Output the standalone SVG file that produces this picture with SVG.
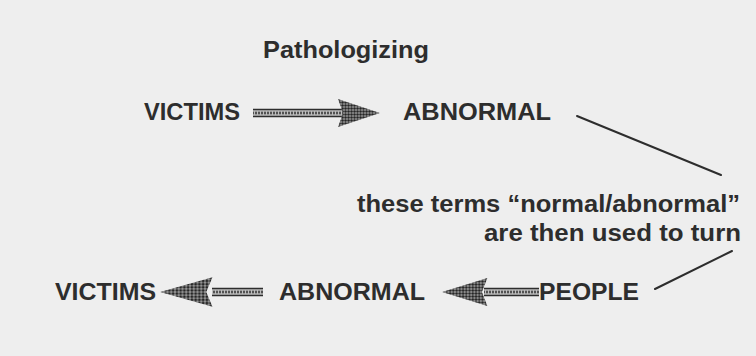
<svg xmlns="http://www.w3.org/2000/svg" xmlns:xlink="http://www.w3.org/1999/xlink" width="756" height="356" viewBox="0 0 756 356">
<style>
.t{font-family:"Liberation Sans",Arial,Helvetica,sans-serif;font-weight:bold;fill:#2d2d2d;font-size:23px}
.ln{stroke:#2d2d2d;stroke-width:2;fill:none;stroke-linecap:round}
.rail{stroke:#2d2d2d;stroke-width:1.6}
</style>
<defs>
<pattern id="stip" width="3" height="3" patternUnits="userSpaceOnUse">
<rect width="3" height="3" fill="#9c9c9c"/>
<circle cx="1.5" cy="1.5" r="1.25" fill="#262626"/>
</pattern>
<pattern id="dash" width="3" height="7" patternUnits="userSpaceOnUse" y="-3.5">
<rect width="3" height="7" fill="#bdbdbd"/>
<rect x="0" y="2.5" width="2" height="2" fill="#2d2d2d"/>
</pattern>
<path id="head" d="M0,0 L-42,-14 L-37,0 L-42,14 Z" fill="url(#stip)"/>
</defs>
<rect width="756" height="356" fill="#eeeeee"/>

<g id="label-pathologizing">
<text class="t" x="263" y="58" font-size="22" textLength="166" lengthAdjust="spacingAndGlyphs">Pathologizing</text>
</g>
<g id="node-victims-top">
<text class="t" x="144" y="120" textLength="96" lengthAdjust="spacingAndGlyphs">VICTIMS</text>
</g>
<g id="node-abnormal-top">
<text class="t" x="403" y="120" textLength="148" lengthAdjust="spacingAndGlyphs">ABNORMAL</text>
</g>
<g id="label-terms">
<text class="t" x="357" y="212" textLength="383" lengthAdjust="spacingAndGlyphs">these terms “normal/abnormal”</text>
<text class="t" x="484" y="241" textLength="257" lengthAdjust="spacingAndGlyphs">are then used to turn</text>
</g>
<g id="node-victims-bottom">
<text class="t" x="55" y="300" textLength="101" lengthAdjust="spacingAndGlyphs">VICTIMS</text>
</g>
<g id="node-abnormal-bottom">
<text class="t" x="279" y="300" textLength="146" lengthAdjust="spacingAndGlyphs">ABNORMAL</text>
</g>
<g id="node-people">
<text class="t" x="539" y="300" textLength="100" lengthAdjust="spacingAndGlyphs">PEOPLE</text>
</g>

<g id="connectors">
<!-- VICTIMS -> ABNORMAL (top) -->
<g transform="translate(0,113)">
<rect x="253" y="-3.5" width="90" height="7" fill="url(#dash)"/>
<line class="rail" x1="253" y1="-3.5" x2="343" y2="-3.5"/>
<line class="rail" x1="253" y1="3.5" x2="343" y2="3.5"/>
<use xlink:href="#head" transform="translate(380,0)"/>
</g>
<!-- ABNORMAL -> VICTIMS (bottom) -->
<g transform="translate(0,292)">
<rect x="212" y="-3.5" width="51" height="7" fill="url(#dash)"/>
<line class="rail" x1="212" y1="-3.5" x2="263" y2="-3.5"/>
<line class="rail" x1="212" y1="3.5" x2="263" y2="3.5"/>
<use xlink:href="#head" transform="translate(160,0) scale(-1.25,1.05)"/>
</g>
<!-- PEOPLE -> ABNORMAL (bottom) -->
<g transform="translate(0,292)">
<rect x="484" y="-3.5" width="55" height="7" fill="url(#dash)"/>
<line class="rail" x1="484" y1="-3.5" x2="539" y2="-3.5"/>
<line class="rail" x1="484" y1="3.5" x2="539" y2="3.5"/>
<use xlink:href="#head" transform="translate(442,0) scale(-1.08,1)"/>
</g>
<!-- pointer lines -->
<line class="ln" x1="577" y1="116" x2="721" y2="175"/>
<line class="ln" x1="655" y1="289" x2="732" y2="251"/>
</g>
</svg>
